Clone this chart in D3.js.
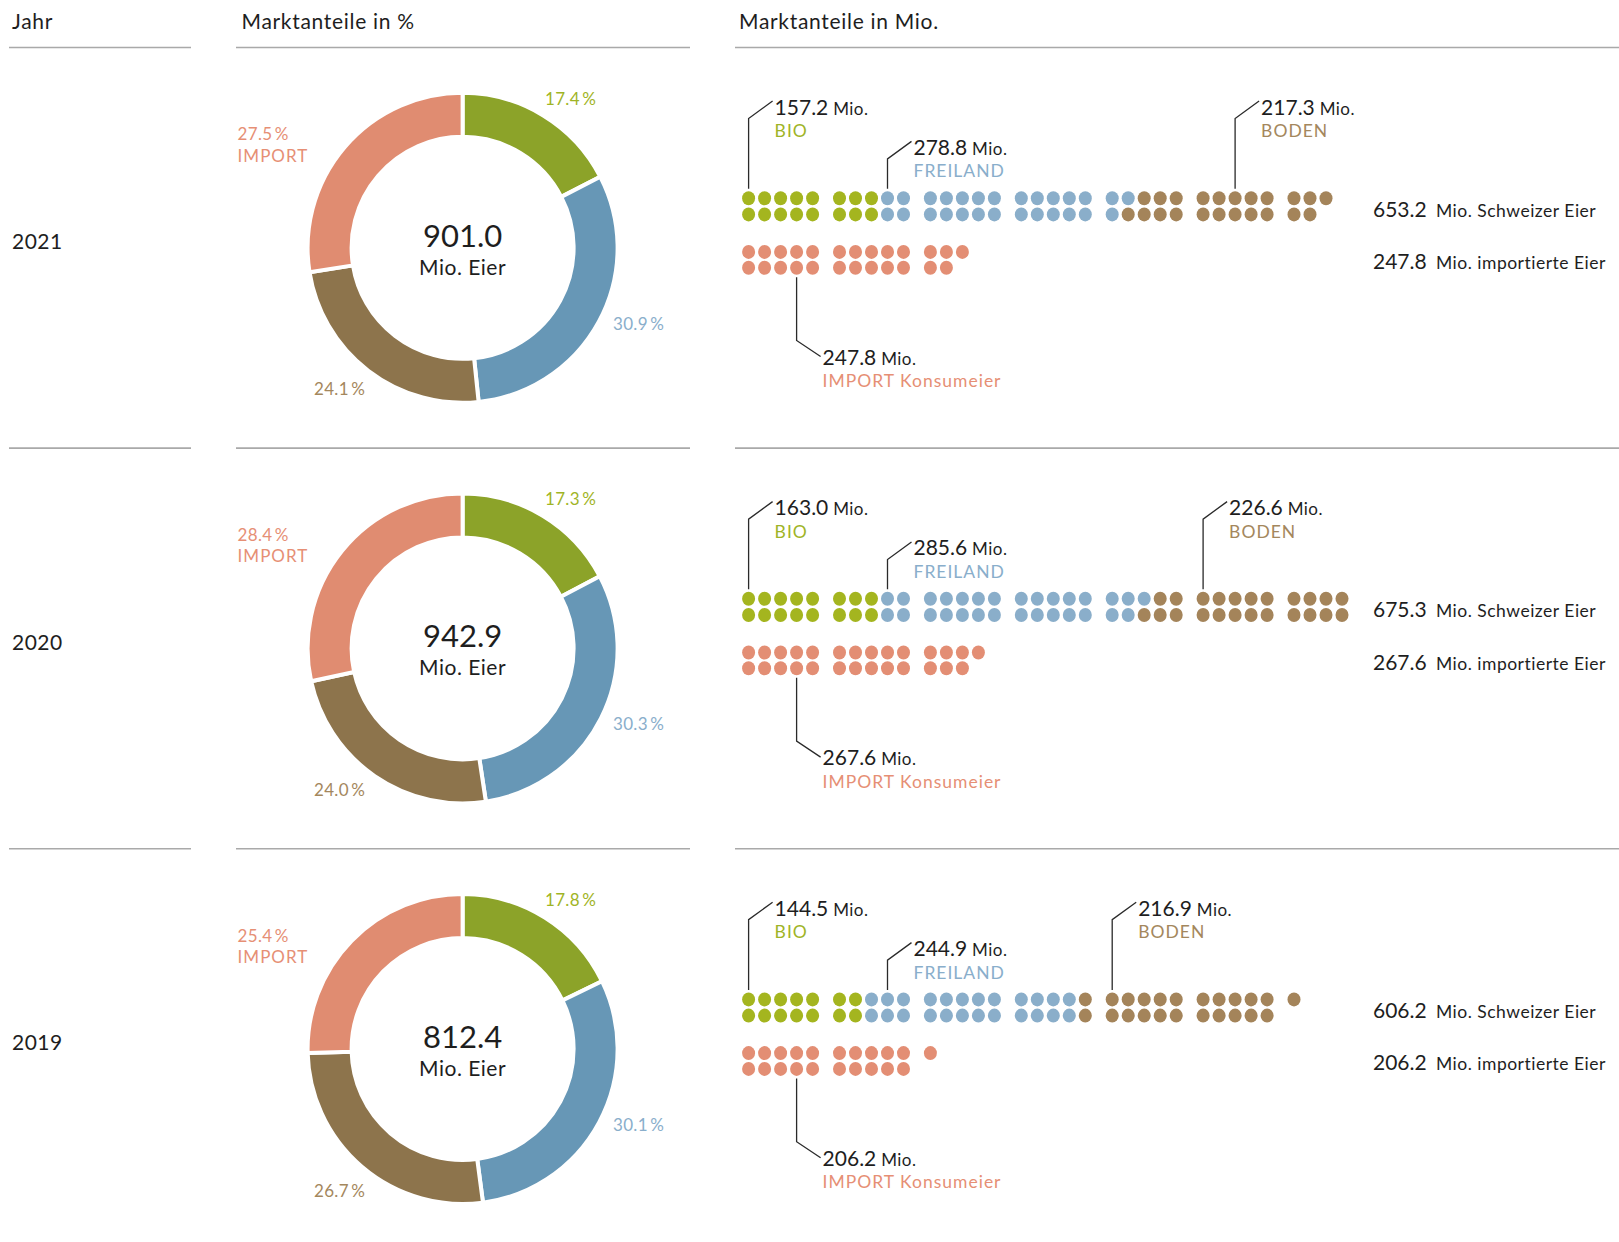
<!DOCTYPE html>
<html>
<head>
<meta charset="utf-8">
<script src="https://cdn.jsdelivr.net/npm/d3@7"></script>
<style>
  body { margin: 0; background: #fff; }
  svg { display: block; font-family: Lato, "Open Sans", sans-serif; }
  .lbl { letter-spacing: 1px; }
  .pc { letter-spacing: 0.3px; }
  .hd { letter-spacing: 0.7px; }
  .sm { letter-spacing: 0.5px; }
</style>
</head>
<body>
<svg id="chart" width="1619" height="1242"></svg>
<script>
// --- data ---
var years = ["2021", "2020", "2019"];
var totals = [901.0, 942.9, 812.4];
var categories = ["BIO", "FREILAND", "BODEN", "IMPORT"];

var bioPct      = [17.4, 17.3, 17.8];
var freilandPct = [30.9, 30.3, 30.1];
var bodenPct    = [24.1, 24.0, 26.7];
var importPct   = [27.5, 28.4, 25.4];

var bioMio      = [157.2, 163.0, 144.5];
var freilandMio = [278.8, 285.6, 244.9];
var bodenMio    = [217.3, 226.6, 216.9];
var importMio   = [247.8, 267.6, 206.2];
var swissMio    = [653.2, 675.3, 606.2];

// one dot = ~10 Mio. eggs, counted in the picture
var bioDots      = [16, 16, 14];
var freilandDots = [27, 29, 24];
var bodenDots    = [22, 23, 23];
var importDots   = [25, 27, 21];

// dot column the callout points at
var bioLeader      = [0, 0, 0];
var freilandLeader = [8, 8, 8];
var bodenLeader    = [27, 25, 20];
var importLeader   = [3, 3, 3];

// --- styles ---
var ringColor = { BIO: "#8ca329", FREILAND: "#6797b6", BODEN: "#8d744c", IMPORT: "#e08c71" };
var dotColor  = { BIO: "#a4b51f", FREILAND: "#8aaeca", BODEN: "#a4845a", IMPORT: "#e38e74" };
var textColor = { BIO: "#9fb426", FREILAND: "#89aecb", BODEN: "#a4875d", IMPORT: "#e68f75" };
var ink = "#1e1e1e";

var svg = d3.select("#chart");

var headerY = 47.5, blockH = 400.6;

// header
svg.append("text").attr("class", "hd").attr("x", 12).attr("y", 29).attr("font-size", 21).attr("fill", ink).text("Jahr");
svg.append("text").attr("class", "hd").attr("x", 241.5).attr("y", 29).attr("font-size", 21).attr("fill", ink).text("Marktanteile in %");
svg.append("text").attr("class", "hd").attr("x", 739).attr("y", 29).attr("font-size", 21).attr("fill", ink).text("Marktanteile in Mio.");

function rules(y) {
  [[9, 191], [236, 690], [735, 1619]].forEach(function(s) {
    svg.append("line")
      .attr("x1", s[0]).attr("x2", s[1]).attr("y1", y).attr("y2", y)
      .attr("stroke", "#a9a9a9").attr("stroke-width", 1.6);
  });
}

var pie = d3.pie().sort(null).value(function(d) { return d.pct; });
var arc = d3.arc().innerRadius(111).outerRadius(155);

// dot grid scales
var groupX = d3.scaleLinear().domain([0, 1]).range([748.6, 839.5]);
var colX = d3.scaleLinear().domain([0, 1]).range([0, 16]);
function dotX(col) { return groupX(Math.floor(col / 5)) + colX(col % 5); }
var rowY = d3.scaleLinear().domain([0, 1]).range([150.7, 166.9]);
var impRowY = d3.scaleLinear().domain([0, 1]).range([204.4, 220.2]);

function fmt(v) { return v.toFixed(1); }

years.forEach(function(year, i) {
  var top = headerY + i * blockH;
  if (i > 0) rules(top);
  var g = svg.append("g").attr("transform", "translate(0," + top + ")");

  // year
  g.append("text").attr("class", "sm").attr("x", 12).attr("y", 201.5).attr("font-size", 21).attr("fill", ink).text(year);

  // donut
  var slices = [
    { cat: "BIO", pct: bioPct[i] },
    { cat: "FREILAND", pct: freilandPct[i] },
    { cat: "BODEN", pct: bodenPct[i] },
    { cat: "IMPORT", pct: importPct[i] }
  ];
  var donut = g.append("g").attr("transform", "translate(462.6,200.3)");
  donut.selectAll("path")
    .data(pie(slices))
    .enter().append("path")
      .attr("d", arc)
      .attr("fill", function(d) { return ringColor[d.data.cat]; })
      .attr("stroke", "#fff")
      .attr("stroke-width", 4);

  donut.append("text").attr("text-anchor", "middle").attr("y", -1)
    .attr("font-size", 31).attr("fill", ink).text(fmt(totals[i]));
  donut.append("text").attr("class", "sm").attr("text-anchor", "middle").attr("y", 27)
    .attr("font-size", 21).attr("fill", ink).text("Mio. Eier");

  function pctText(v) { return fmt(v) + "\u2009%"; }
  donut.append("text").attr("class", "pc").attr("x", 108).attr("y", -143).attr("text-anchor", "middle")
    .attr("font-size", 17).attr("fill", textColor.BIO).text(pctText(bioPct[i]));
  donut.append("text").attr("class", "pc").attr("x", 176).attr("y", 82).attr("text-anchor", "middle")
    .attr("font-size", 17).attr("fill", textColor.FREILAND).text(pctText(freilandPct[i]));
  donut.append("text").attr("class", "pc").attr("x", -123).attr("y", 147.5).attr("text-anchor", "middle")
    .attr("font-size", 17).attr("fill", textColor.BODEN).text(pctText(bodenPct[i]));
  donut.append("text").attr("class", "pc").attr("x", -225).attr("y", -107.5)
    .attr("font-size", 17).attr("fill", textColor.IMPORT).text(pctText(importPct[i]));
  donut.append("text").attr("class", "lbl").attr("x", -225).attr("y", -86)
    .attr("font-size", 17).attr("fill", textColor.IMPORT).text("IMPORT");

  // swiss dots, filled column by column
  var swiss = [];
  [["BIO", bioDots[i]], ["FREILAND", freilandDots[i]], ["BODEN", bodenDots[i]]].forEach(function(c) {
    for (var k = 0; k < c[1]; k++) swiss.push(c[0]);
  });
  g.selectAll(".swiss")
    .data(swiss)
    .enter().append("ellipse")
      .attr("cx", function(d, k) { return dotX(Math.floor(k / 2)); })
      .attr("cy", function(d, k) { return rowY(k % 2); })
      .attr("rx", 6.5).attr("ry", 7)
      .attr("fill", function(d) { return dotColor[d]; });

  var imp = d3.range(importDots[i]);
  g.selectAll(".imp")
    .data(imp)
    .enter().append("ellipse")
      .attr("cx", function(k) { return dotX(Math.floor(k / 2)); })
      .attr("cy", function(k) { return impRowY(k % 2); })
      .attr("rx", 6.5).attr("ry", 7)
      .attr("fill", dotColor.IMPORT);

  // callouts above
  function callUp(col, base, value, label, color) {
    var cx = dotX(col);
    g.append("path")
      .attr("d", "M" + cx + "," + (rowY(0) - 9.5) + "V" + (base + 4) + "L" + (cx + 24) + "," + (base - 13.5))
      .attr("fill", "none").attr("stroke", "#2a2a2a").attr("stroke-width", 1.3);
    var t = g.append("text").attr("x", cx + 26).attr("y", base).attr("fill", ink);
    t.append("tspan").attr("font-size", 21).text(fmt(value));
    t.append("tspan").attr("class", "sm").attr("font-size", 17).text(" Mio.");
    g.append("text").attr("class", "lbl").attr("x", cx + 26).attr("y", base + 22.5).attr("font-size", 17.5)
      .attr("fill", color).text(label);
  }
  callUp(bioLeader[i], 67, bioMio[i], "BIO", textColor.BIO);
  callUp(freilandLeader[i], 107.4, freilandMio[i], "FREILAND", textColor.FREILAND);
  callUp(bodenLeader[i], 67, bodenMio[i], "BODEN", textColor.BODEN);

  // callout below
  var ix = dotX(importLeader[i]), ib = 317;
  g.append("path")
    .attr("d", "M" + ix + "," + (impRowY(1) + 9.5) + "V" + (ib - 24) + "L" + (ix + 24) + "," + (ib - 8))
    .attr("fill", "none").attr("stroke", "#2a2a2a").attr("stroke-width", 1.3);
  var it = g.append("text").attr("x", ix + 26).attr("y", ib).attr("fill", ink);
  it.append("tspan").attr("font-size", 21).text(fmt(importMio[i]));
  it.append("tspan").attr("class", "sm").attr("font-size", 17).text(" Mio.");
  g.append("text").attr("class", "lbl").attr("x", ix + 26).attr("y", ib + 22.5).attr("font-size", 17.5)
    .attr("fill", textColor.IMPORT).text("IMPORT Konsumeier");

  // totals on the right
  var s1 = g.append("text").attr("x", 1373).attr("y", 169).attr("fill", ink);
  s1.append("tspan").attr("font-size", 21).text(fmt(swissMio[i]));
  s1.append("tspan").attr("class", "sm").attr("font-size", 17.5).text("\u2002Mio. Schweizer Eier");
  var s2 = g.append("text").attr("x", 1373).attr("y", 221.5).attr("fill", ink);
  s2.append("tspan").attr("font-size", 21).text(fmt(importMio[i]));
  s2.append("tspan").attr("class", "sm").attr("font-size", 17.5).text("\u2002Mio. importierte Eier");
});

rules(headerY);
</script>
</body>
</html>
